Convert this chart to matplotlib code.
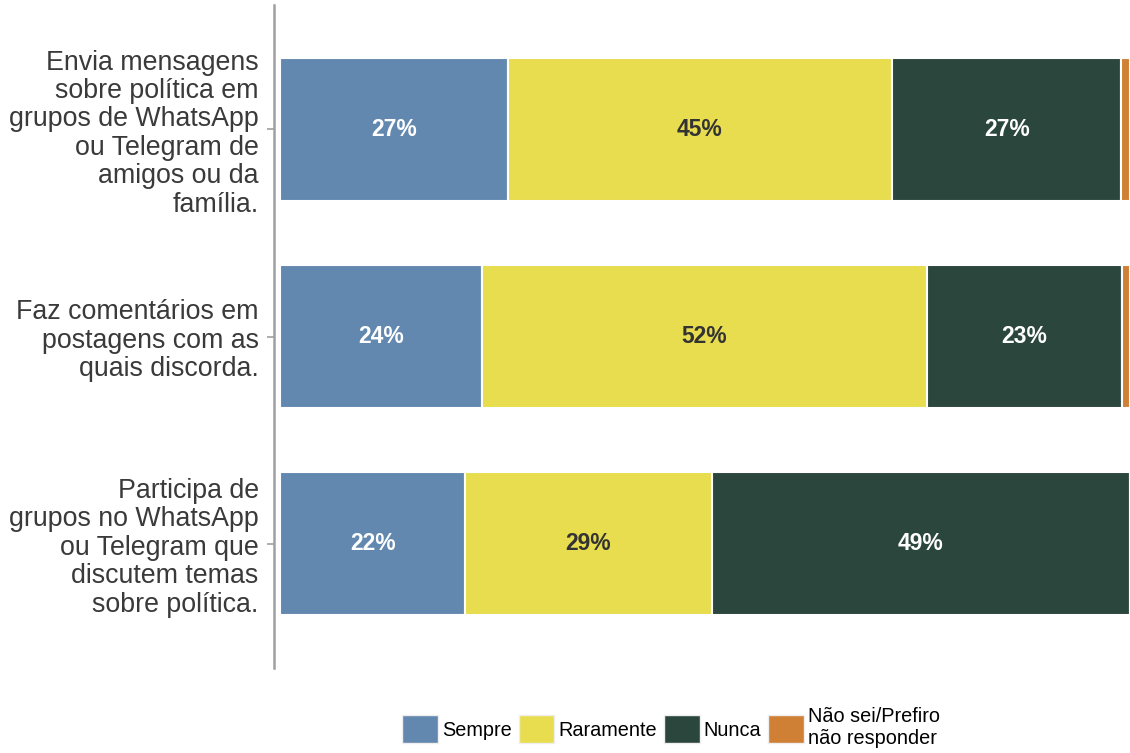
import matplotlib
matplotlib.use("Agg")
import matplotlib.pyplot as plt
from matplotlib.patches import Patch
import numpy as np

plt.rcParams['font.family'] = ['Liberation Sans', 'DejaVu Sans']

categories = [
    "Envia mensagens\nsobre política em\ngrupos de WhatsApp\nou Telegram de\namigos ou da\nfamília.",
    "Faz comentários em\npostagens com as\nquais discorda.",
    "Participa de\ngrupos no WhatsApp\nou Telegram que\ndiscutem temas\nsobre política.",
]
series = ["Sempre", "Raramente", "Nunca", "Não sei/Prefiro\nnão responder"]
sempre = [26.8, 23.8, 21.8]
raramente = [45.2, 52.3, 29.0]
nunca = [27.0, 23.0, 49.2]
nao_sei = [1.0, 0.9, 0.0]
labels = [
    ["27%", "24%", "22%"],
    ["45%", "52%", "29%"],
    ["27%", "23%", "49%"],
    ["", "", ""],
]

colors = ["#6388b0", "#e8dd4f", "#2b473d", "#d08034"]
text_colors = ["white", "#333333", "white", "white"]

fig = plt.figure(figsize=(11.3, 7.53), dpi=100)
ax = fig.add_axes([274 / 1130, 1 - 668 / 753, 1 - 274 / 1130, (668 - 5) / 753])

y = np.arange(1, len(categories) + 1)
left = np.zeros(len(categories))
for vals, col, tcol, labs, name in zip([sempre, raramente, nunca, nao_sei], colors,
                                       text_colors, labels, series):
    vals = np.array(vals)
    ax.barh(y, vals, left=left, height=0.69, color=col, edgecolor="white",
            linewidth=1.5, label=name)
    for yi, l, v, lab in zip(y, left, vals, labs):
        if lab:
            ax.text(l + v / 2, yi, lab, ha="center", va="center", color=tcol,
                    fontsize=16.5, fontweight="bold")
    left += vals

ax.set_xlim(-0.7, 100)
ax.set_ylim(3.6, 0.4)
ax.set_yticks(y)
ax.set_yticklabels(categories, fontsize=19.3, color="#3a3a3a", linespacing=1.12)
ax.set_xticks([])
for s in ["top", "right", "bottom"]:
    ax.spines[s].set_visible(False)
ax.spines["left"].set_color("#a0a0a0")
ax.spines["left"].set_linewidth(1.8)
ax.tick_params(axis="y", length=5, width=1.2, color="#a0a0a0", pad=6)

handles = [Patch(facecolor=c, edgecolor="#eeeeee") for c in colors]
fig.legend(handles, series, loc="center", bbox_to_anchor=(671 / 1130, 1 - 728 / 753),
           ncol=4, frameon=False, fontsize=14.3, handlelength=1.8, handleheight=1.8,
           handletextpad=0.2, columnspacing=0.35, labelspacing=0.1)

fig.savefig("out.png", dpi=100)
